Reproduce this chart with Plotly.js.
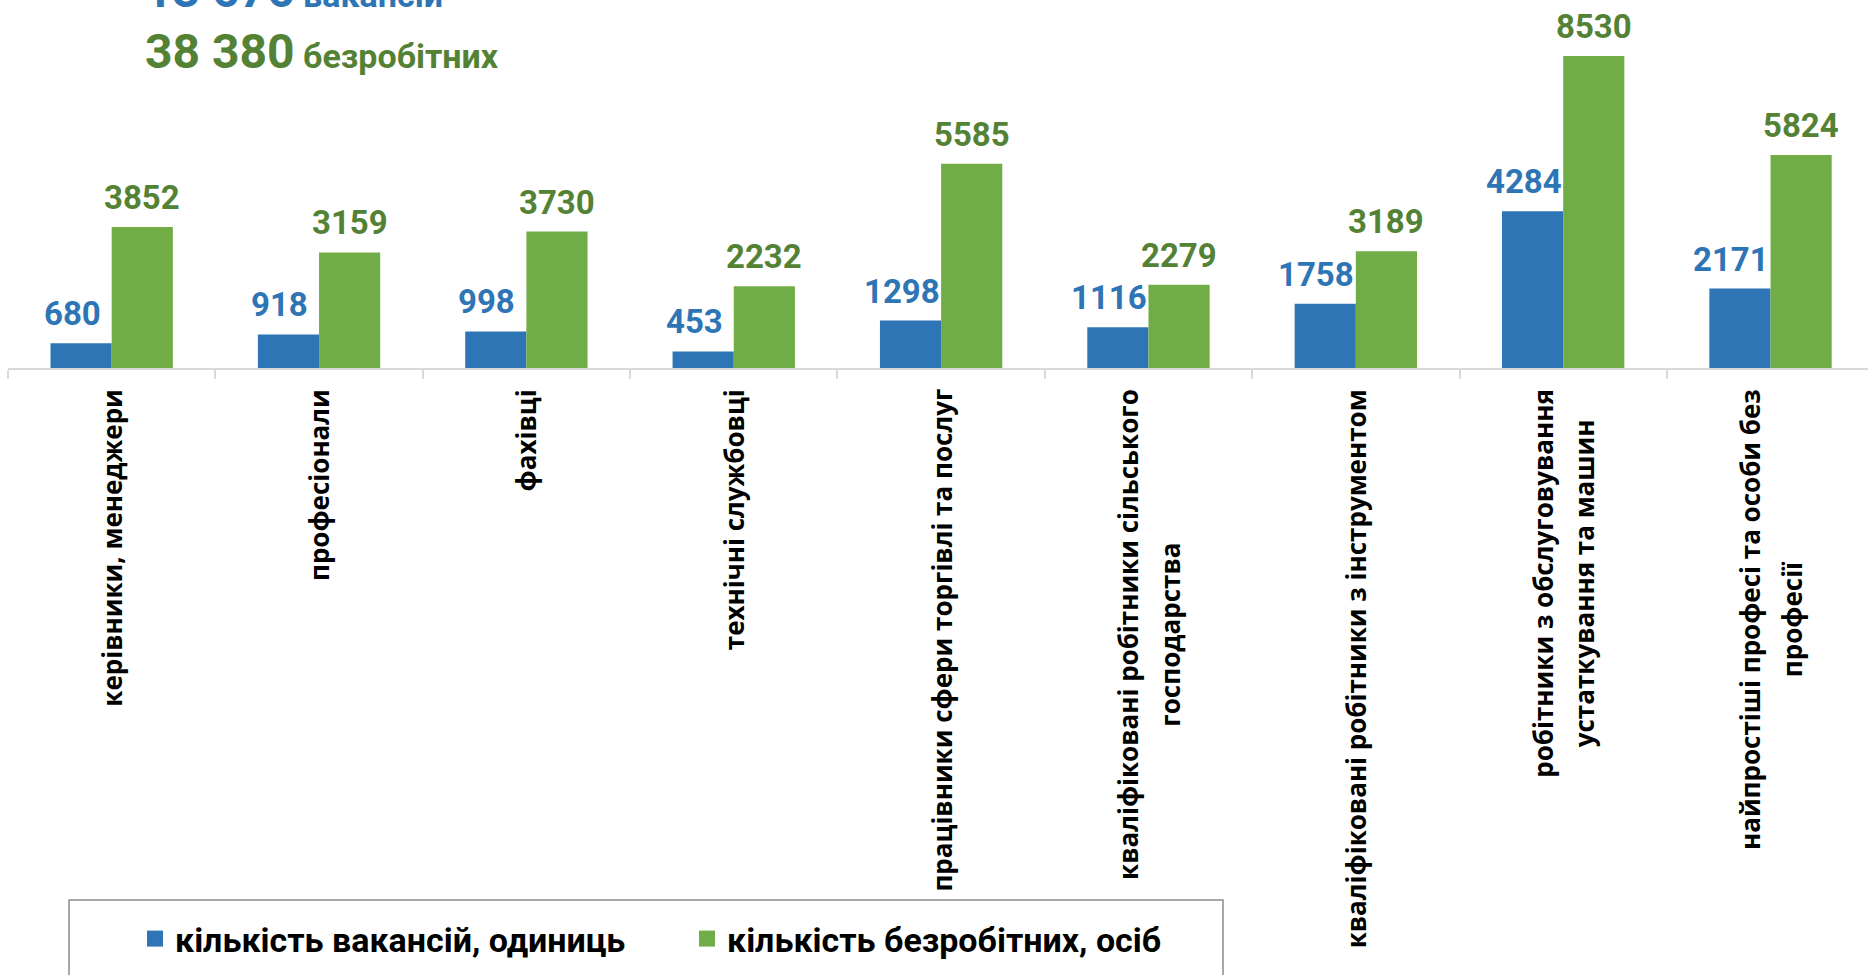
<!DOCTYPE html>
<html><head><meta charset="utf-8">
<script src="https://cdn.plot.ly/plotly-3.0.1.min.js"></script>
<style>html,body{margin:0;padding:0;background:#fff}#chart{width:1868px;height:975px}</style>
</head><body><div id="chart"></div>
<script>
const categories = [
  'керівники, менеджери',
  'професіонали',
  'фахівці',
  'технічні службовці',
  'працівники сфери торгівлі та послуг',
  'кваліфіковані робітники сільського<br>господарства',
  'кваліфіковані робітники з інструментом',
  'робітники з обслуговування<br>устаткування та машин',
  'найпростіші професі та особи без<br>професії'
];
const vacancies = [680, 918, 998, 453, 1298, 1116, 1758, 4284, 2171];
const unemployed = [3852, 3159, 3730, 2232, 5585, 2279, 3189, 8530, 5824];
const seriesNames = ['кількість вакансій, одиниць', 'кількість безробітних, осіб'];
const totalVacancies = '13 676';
const totalVacanciesLabel = 'вакансій';
const totalUnemployed = '38 380';
const totalUnemployedLabel = 'безробітних';

const W = 1868, H = 975;
const mL = 8, mR = 0, mT = 0, mB = 607;
const plotW = W - mL - mR, plotH = H - mT - mB;
const xr = [-0.5, 8.47];
const bargap = 0.41;
const catW = plotW / (xr[1] - xr[0]);
const barOffset = catW * (1 - bargap) / 4;

const BLUE = '#2E75B6', GREEN = '#70AD47', BLUE_T = '#2E75B6', GREEN_T = '#548235';
const NARROW = '"Liberation Sans Narrow", "Arial Narrow", "Roboto", sans-serif';
const LABELF = '"Open Sans", "Noto Sans", sans-serif';

function px2paperX(p){ return (p - mL) / plotW; }
function px2paperY(p){ return 1 - (p - mT) / plotH; }

const traces = [
  {type:'bar', name: seriesNames[0], x: categories, y: vacancies, marker:{color:BLUE}, hoverinfo:'skip', showlegend:false},
  {type:'bar', name: seriesNames[1], x: categories, y: unemployed, marker:{color:GREEN}, hoverinfo:'skip', showlegend:false},
  // legend keys (larger square swatches, no visible points)
  {type:'scatter', mode:'markers', name: seriesNames[0], x: [null], y: [null], marker:{symbol:'square', size:16, color:BLUE}, showlegend:true, hoverinfo:'skip'},
  {type:'scatter', mode:'markers', name: seriesNames[1], x: [null], y: [null], marker:{symbol:'square', size:16, color:GREEN}, showlegend:true, hoverinfo:'skip'}
];

const annotations = [];
categories.forEach((c, i) => {
  annotations.push({x:c, y:vacancies[i], xref:'x', yref:'y', text:String(vacancies[i]), showarrow:false,
    xanchor:'center', yanchor:'bottom', xshift:-barOffset - 9, yshift:8,
    font:{family:NARROW, size:33, color:BLUE_T, weight:'bold'}});
  annotations.push({x:c, y:unemployed[i], xref:'x', yref:'y', text:String(unemployed[i]), showarrow:false,
    xanchor:'center', yanchor:'bottom', xshift:barOffset, yshift:8,
    font:{family:NARROW, size:33, color:GREEN_T, weight:'bold'}});
  // category label (rotated, lines centred)
  annotations.push({x:c, y:0, xref:'x', yref:'y', showarrow:false, textangle:-90, align:'center',
    xanchor:'center', yanchor:'top', yshift:-19,
    text: c.split('<br>').map(l => '<span style="font-size:26px">' + l + '</span>').join('<br>'),
    font:{family:LABELF, size:32, color:'#000000', weight:'bold'}});
});
annotations.push({xref:'paper', yref:'paper', x:px2paperX(143), y:px2paperY(21), xanchor:'left', yanchor:'bottom', showarrow:false,
  text: totalVacancies + '<span style="font-size:34px"> ' + totalVacanciesLabel + '</span>',
  font:{family:NARROW, size:48, color:BLUE_T, weight:'bold'}});
annotations.push({xref:'paper', yref:'paper', x:px2paperX(143), y:px2paperY(82), xanchor:'left', yanchor:'bottom', showarrow:false,
  text: totalUnemployed + '<span style="font-size:34px"> ' + totalUnemployedLabel + '</span>',
  font:{family:NARROW, size:48, color:GREEN_T, weight:'bold'}});

const layout = {
  width: W, height: H,
  margin: {l:mL, r:mR, t:mT, b:mB, pad:0, autoexpand:false},
  paper_bgcolor:'#ffffff', plot_bgcolor:'#ffffff',
  barmode:'group', bargap: bargap, bargroupgap: 0,
  showlegend: true,
  legend: {orientation:'h', x: px2paperX(135), y: px2paperY(939), xanchor:'left', yanchor:'middle',
    font:{family:NARROW, size:34, color:'#000000', weight:'bold'}, bgcolor:'rgba(0,0,0,0)', borderwidth:0,
    entrywidth: 507, entrywidthmode:'pixels', traceorder:'normal', itemsizing:'trace'},
  xaxis: {type:'category', range: xr, showgrid:false, zeroline:false,
    showline:true, linecolor:'#d9d9d9', linewidth:2,
    ticks:'outside', tickson:'boundaries', ticklen:9, tickcolor:'#d9d9d9', tickwidth:2,
    showticklabels:false, fixedrange:true},
  yaxis: {range:[0, 10060], showgrid:false, zeroline:false, showline:false, showticklabels:false, ticks:'', fixedrange:true},
  shapes: [
    {type:'rect', xref:'paper', yref:'paper', x0:px2paperX(69), x1:px2paperX(1223), y0:px2paperY(900), y1:px2paperY(1010),
      line:{color:'#8c8c8c', width:1.5}, fillcolor:'rgba(0,0,0,0)', layer:'below'}
  ],
  annotations: annotations
};

Plotly.newPlot('chart', traces, layout, {displayModeBar:false, staticPlot:true});
</script>
</body></html>
